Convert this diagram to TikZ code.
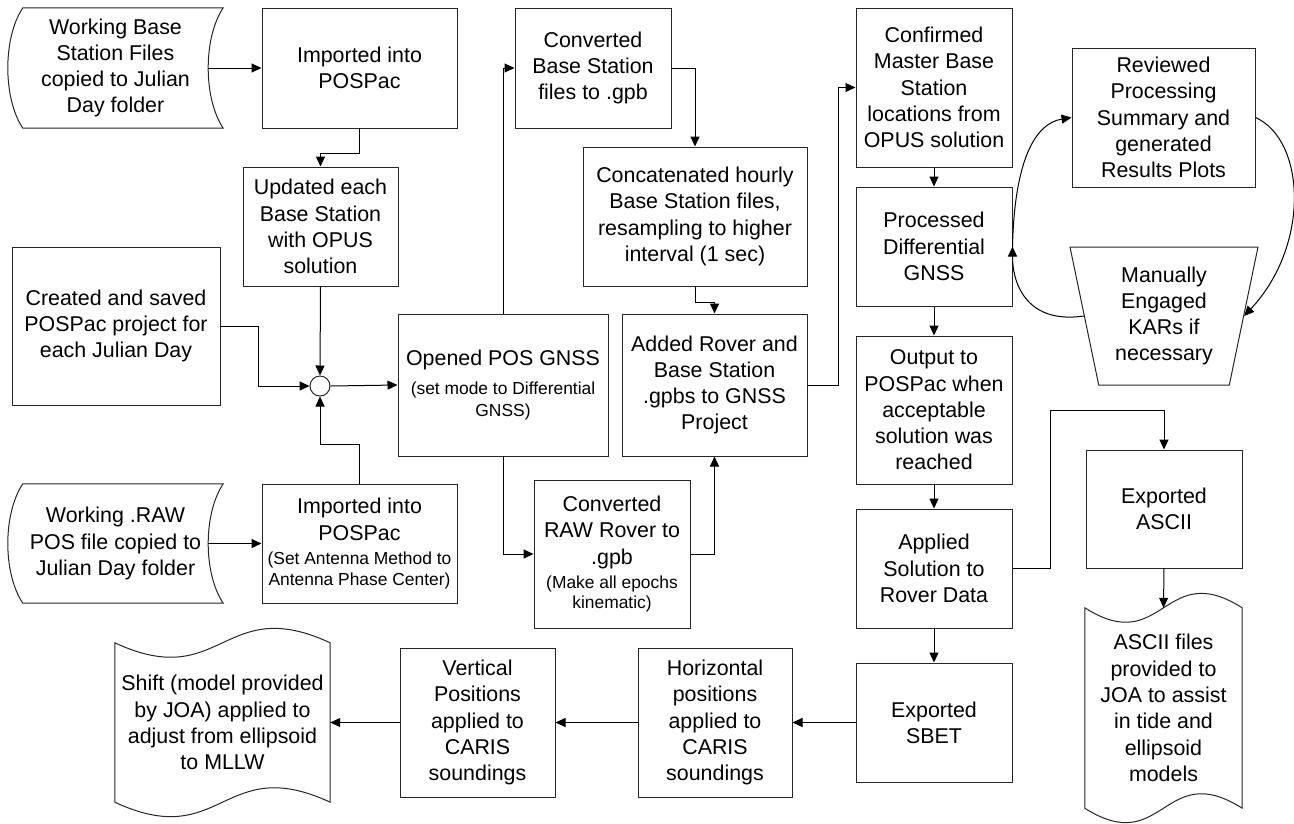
\documentclass[tikz,border=0pt]{standalone}
\usepackage{fontspec}
\setmainfont{Liberation Sans}
\usepackage{tikz}
\usetikzlibrary{calc}
\usetikzlibrary{shapes.geometric}
\usetikzlibrary{arrows.meta}

\newcommand{\subtxt}[1]{{\fontsize{17.4}{21.7}\selectfont #1}}

\tikzset{
    line/.style={draw=black!85, line width=1pt},
    box/.style={line, rectangle, align=center, inner sep=2pt},
    sz/.style 2 args={minimum width=#1pt, minimum height=#2pt},
    store/.style={rectangle, align=center, inner sep=2pt},
    punch/.style={rectangle, align=center, inner sep=2pt},
    manual/.style={line, trapezium, shape border rotate=180, trapezium angle=74.4,
        trapezium stretches body, minimum width=188pt, minimum height=138pt, align=center, inner sep=2pt},
    junct/.style={line, circle, minimum size=20pt, inner sep=0pt},
    arr/.style={draw=black, line width=1pt, -{Triangle[length=10pt,width=9pt]}}
}

\begin{document}
\begin{tikzpicture}[x=1pt, y=-1pt, font=\fontsize{21.4}{26.3}\selectfont]
        \useasboundingbox (0,0) rectangle (1294,823);

        % left column
        \node[store, sz={215}{120}] (wbase) at (115.5,68) {Working Base\\Station Files\\copied to Julian\\Day folder};
        \node[box, sz={195}{120}] (imp1) at (359.5,68) {Imported into\\POSPac};
        \node[box, sz={155}{119}] (upd) at (320.5,226.5) {Updated each\\Base Station\\with OPUS\\solution};
        \node[box, sz={208}{158}] (created) at (116,326) {Created and saved\\POSPac project for\\each Julian Day};
        \node[junct] (junc) at (320,386) {};
        \node[store, sz={215}{119}] (raw) at (115.5,543.5) {Working .RAW\\POS file copied to\\Julian Day folder};
        \node[box, sz={195}{119}] (imp2) at (359.5,543.5) {Imported into\\POSPac\\[-2.3pt]\subtxt{(Set Antenna Method to}\\[-5.3pt]\subtxt{Antenna Phase Center)}};

        % middle
        \node[box, sz={210}{142}] (opened) at (503,385) {Opened POS GNSS\\[2.7pt]\subtxt{(set mode to Differential}\\[-4.3pt]\subtxt{GNSS)}};
        \node[box, sz={156}{120}] (convbase) at (593,68) {Converted\\Base Station\\files to .gpb};
        \node[box, sz={224}{139}] (concat) at (695,216.5) {Concatenated hourly\\Base Station files,\\resampling to higher\\interval (1 sec)};
        \node[box, sz={185}{142}] (added) at (714.5,385) {Added Rover and\\Base Station\\.gpbs to GNSS\\Project};
        \node[box, sz={156}{148}] (convraw) at (612,554) {Converted\\RAW Rover to\\.gpb\\[-2.5pt]\subtxt{(Make all epochs}\\[-6pt]\subtxt{kinematic)}};

        % right
        \node[box, sz={156}{159}] (confirmed) at (934,87.5) {Confirmed\\Master Base\\Station\\locations from\\OPUS solution};
        \node[box, sz={156}{119}] (processed) at (934,246.5) {Processed\\Differential\\GNSS};
        \node[box, sz={183}{139}] (reviewed) at (1163.5,117.5) {Reviewed\\Processing\\Summary and\\generated\\Results Plots};
        \node[manual] (manual) at (1164,316) {Manually\\Engaged\\KARs if\\necessary};
        \node[box, sz={156}{148}] (output) at (934,410) {Output to\\POSPac when\\acceptable\\solution was\\reached};
        \node[box, sz={156}{119}] (applied) at (934,568.5) {Applied\\Solution to\\Rover Data};
        \node[box, sz={156}{118}] (expascii) at (1164,509) {Exported\\ASCII};
        \node[punch, sz={157}{200}] (asciifiles) at (1163.5,708) {ASCII files\\provided to\\JOA to assist\\in tide and\\ellipsoid\\models};

        % bottom row
        \node[box, sz={156}{119}] (sbet) at (934,722.5) {Exported\\SBET};
        \node[box, sz={154}{149}] (horiz) at (715,722.5) {Horizontal\\positions\\applied to\\CARIS\\soundings};
        \node[box, sz={155}{149}] (vert) at (477.5,722.5) {Vertical\\Positions\\applied to\\CARIS\\soundings};
        \node[punch, sz={215}{159}] (shift) at (222.5,722.5) {Shift (model provided\\by JOA) applied to\\adjust from ellipsoid\\to MLLW};

        % outlines of the odd shapes
        \foreach \n in {wbase,raw}
            \draw[line] ($(\n.north west)+(15,0)$) -- (\n.north east) .. controls +(-20,30) and +(-20,-30) .. (\n.south east)
                -- ($(\n.south west)+(15,0)$) .. controls +(-20,-30) and +(-20,30) .. ($(\n.north west)+(15,0)$) -- cycle;
        \foreach \n in {shift,asciifiles}
            \draw[line] (\n.north west) .. controls ($(\n.north)+(0,50)$) and ($(\n.north)+(0,-50)$) .. (\n.north east)
                -- (\n.south east) .. controls ($(\n.south)+(0,-50)$) and ($(\n.south)+(0,50)$) .. (\n.south west) -- cycle;

        % connectors
        \draw[arr] ($(wbase.east)+(-15,0)$) -- (imp1.west);
        \draw[arr] (imp1.south) -- ++(0,25) -| (upd.north);
        \draw[arr] (upd.south) -- (junc.north);
        \draw[arr] (created.east) -- ++(38,0) |- (junc.west);
        \draw[arr] (imp2.north) -- ++(0,-39) -| (junc.south);
        \draw[arr] ($(raw.east)+(-15,0)$) -- (imp2.west);
        \draw[arr] (junc.east) -- (opened.west);
        \draw[arr] (opened.north) |- (convbase.west);
        \draw[arr] (convbase.east) -| (concat.north);
        \draw[arr] (concat.south) -- ++(0,16) -| (added.north);
        \draw[arr] (opened.south) |- (convraw.west);
        \draw[arr] (convraw.east) -| (added.south);
        \draw[arr] (added.east) -- ++(31,0) |- (confirmed.west);
        \draw[arr] (confirmed.south) -- (processed.north);
        \draw[arr] (processed.east) .. controls +(2,-85) and +(-37,6) .. (reviewed.west);
        \draw[arr] (reviewed.east) .. controls +(50,22.5) and +(66.5,-71) .. (manual.0);
        \draw[arr] (manual.180) .. controls +(-55,8) and +(0,40) .. (processed.east);
        \draw[arr] (processed.south) -- (output.north);
        \draw[arr] (output.south) -- (applied.north);
        \draw[arr] (applied.east) -- ++(38,0) |- ($(expascii.north)+(0,-39)$) -- (expascii.north);
        \draw[arr] (expascii.south) -- (asciifiles.north);
        \draw[arr] (applied.south) -- (sbet.north);
        \draw[arr] (sbet.west) -- (horiz.east);
        \draw[arr] (horiz.west) -- (vert.east);
        \draw[arr] (vert.west) -- (shift.east);
    \end{tikzpicture}
\end{document}
